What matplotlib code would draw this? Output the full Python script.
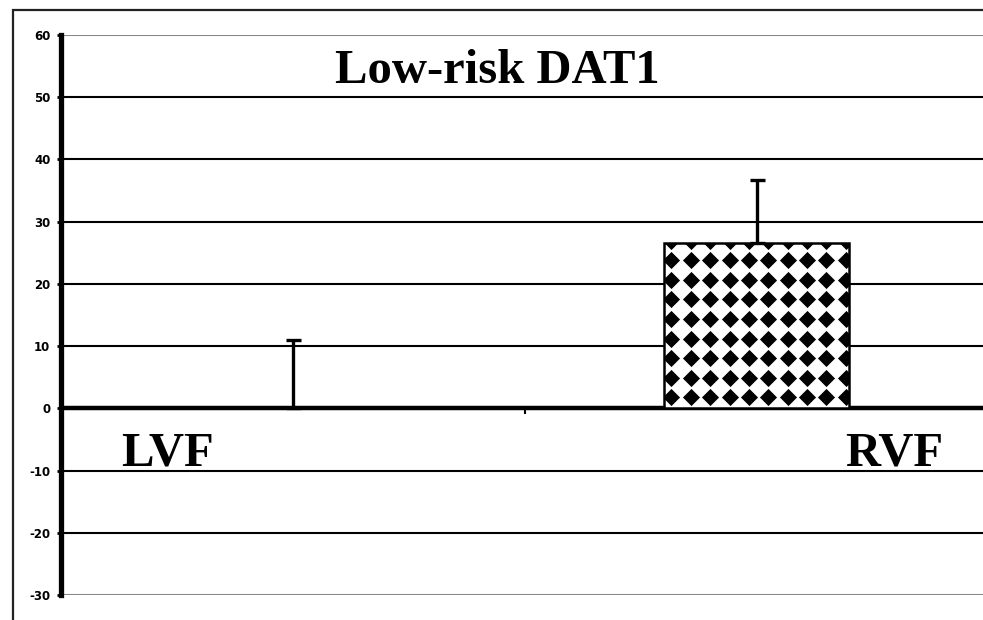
import numpy as np
import matplotlib.pyplot as plt
from matplotlib.patches import Rectangle

# Group means and upper error (one-sided) for each visual field
categories = ["LVF", "RVF"]
means = [0.0, 26.5]
errors = [11.0, 10.2]
title = "Low-risk DAT1"
yticks = [-30, -20, -10, 0, 10, 20, 30, 40, 50, 60]

fig = plt.figure(figsize=(9.83, 6.2), dpi=100)
ax = fig.add_axes([61.5 / 983, 25 / 620, 927 / 983, 560 / 620])

x = np.arange(len(categories))
bar_width = 0.40

# outer chart-area frame
fig.patches.append(Rectangle((12.5 / 983, -0.1), 1.2, 1.1 - 9.5 / 620,
                             transform=fig.transFigure, fill=False,
                             edgecolor="#222222", linewidth=1.6, zorder=0))

bars = ax.bar(x, means, width=bar_width, color="white", edgecolor="black",
              linewidth=1.8, zorder=3)
ax.errorbar(x, means, yerr=[np.zeros(len(errors)), errors], fmt="none",
            ecolor="black", elinewidth=2.4, capsize=5.4, capthick=2.4, zorder=4)

# diamond fill for the bars, clipped to each bar outline
xstep, ystep = 0.0418, 3.14
for b in bars:
    if b.get_height() <= 0:
        continue
    x0, w, h = b.get_x(), b.get_width(), b.get_height()
    cols = np.arange(x0 + 0.016, x0 + w + xstep, xstep)
    rows = np.arange(1.8, h + ystep, ystep)
    gx, gy = np.meshgrid(cols, rows)
    pts = ax.scatter(gx.ravel(), gy.ravel(), marker="D", s=76, color="black",
                     linewidths=0, zorder=3.5)
    pts.set_clip_path(b)

ax.set_xlim(-0.5, 1.5)
ax.set_ylim(-30, 60)
ax.set_yticks(yticks)
ax.set_yticklabels([str(t) for t in yticks], fontsize=8.5, fontweight="bold",
                   family="DejaVu Sans")
ax.tick_params(axis="y", length=3, width=2, pad=5)

# category axis sits on zero, ticks between the groups
ax.spines["bottom"].set_position(("data", 0))
ax.spines["bottom"].set_linewidth(3.2)
ax.set_xticks([0.5])
ax.set_xticklabels([])
ax.tick_params(axis="x", length=4, width=1.5, direction="out")
ax.spines["left"].set_linewidth(3.8)
ax.spines["top"].set_visible(False)
ax.spines["right"].set_visible(False)

ax.yaxis.grid(True, color="black", linewidth=1.5, zorder=1)
ax.set_axisbelow(True)
ax.get_ygridlines()[0].set_color("#888888")
ax.get_ygridlines()[-1].set_color("#888888")

serif = dict(family="Liberation Serif", fontweight="bold", fontsize=35,
             va="baseline", ha="left")
ax.text(0.295, 0.914, title, transform=ax.transAxes, **serif)
ax.text(0.0647, 0.232, categories[0], transform=ax.transAxes, **serif)
ax.text(0.845, 0.232, categories[1], transform=ax.transAxes, **serif)

fig.savefig("out.png", dpi=100)
